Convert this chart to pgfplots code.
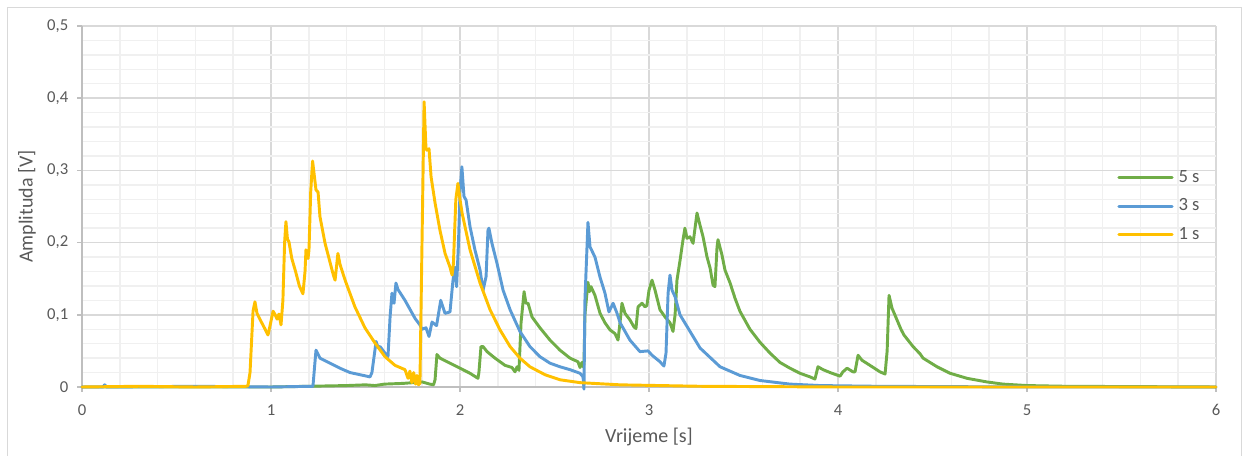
\documentclass[border=0pt]{standalone}
\usepackage{pgfplots}
\pgfplotsset{compat=1.18}
\usepackage{fontspec}
\setmainfont{Carlito}
\definecolor{cGreen}{HTML}{70AD47}
\definecolor{cBlue}{HTML}{5B9BD5}
\definecolor{cYellow}{HTML}{FFC000}
\definecolor{cText}{HTML}{595959}
\definecolor{cMajor}{HTML}{D9D9D9}
\definecolor{cMinor}{HTML}{F0F0F0}
\definecolor{cAxis}{HTML}{BFBFBF}
\begin{document}
\begin{tikzpicture}
\useasboundingbox (0,0) rectangle (936.75pt,342pt);
\draw[cMajor, line width=0.75pt] (5.25pt,-2pt) -- (5.25pt,336pt) -- (930.75pt,336pt) -- (930.75pt,-2pt);
\begin{axis}[
  at={(61.5pt,51.75pt)}, anchor=south west,
  scale only axis, width=850.5pt, height=270.75pt,
  xmin=0, xmax=6, ymin=0, ymax=0.5,
  xtick={0,1,2,3,4,5,6}, ytick={0,0.1,0.2,0.3,0.4,0.5},
  minor x tick num=4, minor y tick num=4,
  grid=both,
  major grid style={color=cMajor, line width=1.1pt},
  minor grid style={color=cMinor, line width=1.1pt},
  axis lines*=left,
  axis line style={color=cAxis, line width=1.1pt},
  tick align=outside, major tick length=3.75pt, minor tick length=0pt,
  tick style={color=cAxis, line width=1.1pt},
  /pgf/number format/assume math mode=true,
  /pgf/number format/use comma,
  /pgf/number format/1000 sep={},
  ticklabel style={font=\fontsize{12.5}{14}\selectfont, text=cText},
  yticklabel style={xshift=-3pt},
  xticklabel style={yshift=-6pt},
  xlabel={Vrijeme [s]}, ylabel={Amplituda [V]},
  label style={font=\fontsize{15}{17}\selectfont, text=cText},
  xlabel style={at={(axis description cs:0.5,-0.1385)}, anchor=center},
  ylabel style={at={(axis description cs:-0.0485,0.5)}, anchor=center},
  clip=false,
  legend cell align=left,
  legend image code/.code={\draw[#1] (0pt,0pt) -- (40pt,0pt);},
  legend style={draw=none, fill=none, at={(axis description cs:0.9127,0.501)}, anchor=west,
    inner sep=0pt, row sep=8.4pt, column sep=3.75pt,
    nodes={inner sep=0pt, text height=10pt, text depth=3pt, font=\fontsize{14}{16}\selectfont, text=cText}},
  every axis plot/.append style={line width=2.2pt, line join=round, line cap=round},
]
\addplot[cGreen] coordinates {
(0,0) (0.5,0) (1.0,0.0) (1.2,0.001) (1.4,0.002) (1.5,0.003) (1.55,0.002) (1.6,0.004) (1.7,0.005) (1.75,0.006) (1.8,0.007) (1.84,0.004) (1.86,0.003) (1.868,0.01) (1.878,0.045) (1.894,0.04) (1.947,0.033) (2.0,0.026) (2.053,0.019) (2.095,0.012) (2.1,0.02) (2.111,0.056) (2.122,0.056) (2.143,0.049) (2.185,0.04) (2.238,0.03) (2.275,0.027) (2.291,0.021) (2.302,0.028) (2.312,0.023) (2.323,0.089) (2.339,0.132) (2.349,0.116) (2.36,0.116) (2.381,0.097) (2.423,0.082) (2.476,0.065) (2.529,0.051) (2.582,0.04) (2.624,0.035) (2.635,0.027) (2.645,0.034) (2.651,0.028) (2.656,0.032) (2.661,0.1) (2.677,0.145) (2.685,0.132) (2.693,0.139) (2.714,0.127) (2.741,0.102) (2.767,0.089) (2.794,0.079) (2.82,0.074) (2.836,0.065) (2.847,0.09) (2.857,0.116) (2.873,0.102) (2.899,0.093) (2.921,0.083) (2.931,0.081) (2.942,0.111) (2.963,0.116) (2.979,0.111) (2.989,0.113) (3.0,0.134) (3.016,0.148) (3.032,0.134) (3.058,0.107) (3.085,0.097) (3.111,0.089) (3.127,0.077) (3.138,0.1) (3.148,0.148) (3.164,0.175) (3.18,0.204) (3.19,0.22) (3.201,0.206) (3.217,0.208) (3.233,0.199) (3.254,0.241) (3.265,0.229) (3.286,0.208) (3.307,0.18) (3.323,0.165) (3.339,0.141) (3.349,0.139) (3.36,0.194) (3.365,0.204) (3.386,0.183) (3.402,0.162) (3.429,0.144) (3.455,0.123) (3.481,0.105) (3.534,0.08) (3.587,0.062) (3.64,0.047) (3.693,0.034) (3.746,0.026) (3.799,0.019) (3.852,0.014) (3.878,0.011) (3.894,0.028) (3.921,0.024) (3.958,0.02) (4.011,0.015) (4.026,0.021) (4.048,0.026) (4.079,0.021) (4.09,0.021) (4.106,0.044) (4.127,0.037) (4.169,0.03) (4.222,0.021) (4.249,0.018) (4.26,0.05) (4.27,0.127) (4.286,0.109) (4.312,0.093) (4.333,0.08) (4.349,0.072) (4.397,0.056) (4.434,0.046) (4.45,0.04) (4.524,0.028) (4.593,0.019) (4.683,0.012) (4.788,0.007) (4.873,0.004) (5,0.002) (5.2,0.001) (6,0)
};
\addlegendentry{5 s}
\addplot[cBlue] coordinates {
(0,0) (0.11,0) (0.12,0.003) (0.13,0) (0.6,0.001) (1.0,0) (1.222,0.001) (1.228,0.02) (1.238,0.051) (1.259,0.04) (1.312,0.033) (1.365,0.026) (1.418,0.02) (1.471,0.017) (1.524,0.014) (1.534,0.02) (1.556,0.063) (1.566,0.055) (1.577,0.056) (1.603,0.047) (1.619,0.042) (1.63,0.097) (1.64,0.13) (1.651,0.116) (1.661,0.144) (1.672,0.135) (1.709,0.12) (1.762,0.095) (1.788,0.086) (1.799,0.08) (1.82,0.082) (1.836,0.07) (1.852,0.09) (1.876,0.085) (1.898,0.12) (1.921,0.102) (1.947,0.104) (1.963,0.148) (1.974,0.166) (1.982,0.139) (1.992,0.2) (2.0,0.27) (2.01,0.305) (2.021,0.264) (2.032,0.259) (2.053,0.222) (2.079,0.19) (2.106,0.162) (2.122,0.134) (2.138,0.153) (2.148,0.217) (2.153,0.22) (2.169,0.199) (2.196,0.171) (2.228,0.134) (2.265,0.107) (2.317,0.077) (2.37,0.056) (2.423,0.042) (2.476,0.033) (2.529,0.028) (2.582,0.024) (2.635,0.019) (2.651,0.014) (2.656,-0.003) (2.661,0.12) (2.677,0.228) (2.688,0.194) (2.714,0.18) (2.741,0.152) (2.767,0.13) (2.788,0.104) (2.81,0.116) (2.831,0.102) (2.847,0.089) (2.899,0.065) (2.952,0.049) (2.995,0.05) (3.016,0.044) (3.058,0.035) (3.079,0.029) (3.09,0.047) (3.101,0.13) (3.111,0.155) (3.122,0.134) (3.138,0.125) (3.164,0.1) (3.217,0.077) (3.27,0.054) (3.323,0.041) (3.376,0.028) (3.481,0.016) (3.587,0.009) (3.746,0.004) (3.905,0.002) (4.2,0.001) (5,0) (6,0)
};
\addlegendentry{3 s}
\addplot[cYellow] coordinates {
(0,0) (0.3,0.001) (0.6,0) (0.87,0.001) (0.878,0.002) (0.889,0.02) (0.905,0.105) (0.915,0.118) (0.926,0.102) (0.945,0.092) (0.965,0.082) (0.984,0.072) (0.995,0.085) (1.011,0.105) (1.022,0.1) (1.032,0.094) (1.042,0.101) (1.053,0.086) (1.063,0.12) (1.072,0.2) (1.079,0.229) (1.087,0.205) (1.095,0.201) (1.11,0.178) (1.13,0.16) (1.15,0.14) (1.169,0.129) (1.18,0.16) (1.185,0.19) (1.196,0.178) (1.201,0.19) (1.21,0.27) (1.22,0.313) (1.238,0.273) (1.249,0.27) (1.259,0.236) (1.286,0.199) (1.312,0.173) (1.33,0.155) (1.339,0.148) (1.354,0.185) (1.365,0.17) (1.392,0.148) (1.444,0.111) (1.497,0.082) (1.55,0.061) (1.603,0.042) (1.656,0.03) (1.709,0.024) (1.725,0.012) (1.735,0.022) (1.745,0.006) (1.755,0.02) (1.765,0.004) (1.772,0.016) (1.78,0.003) (1.788,0.005) (1.81,0.395) (1.82,0.33) (1.825,0.328) (1.836,0.33) (1.847,0.291) (1.868,0.255) (1.894,0.217) (1.921,0.185) (1.947,0.166) (1.958,0.155) (1.965,0.17) (1.978,0.26) (1.989,0.282) (2.0,0.26) (2.011,0.241) (2.053,0.19) (2.106,0.144) (2.159,0.107) (2.212,0.079) (2.265,0.056) (2.317,0.04) (2.37,0.028) (2.45,0.017) (2.529,0.01) (2.635,0.006) (2.847,0.003) (3.27,0.001) (4,0) (5,0) (6,0)
};
\addlegendentry{1 s}
\end{axis}
\end{tikzpicture}
\end{document}
